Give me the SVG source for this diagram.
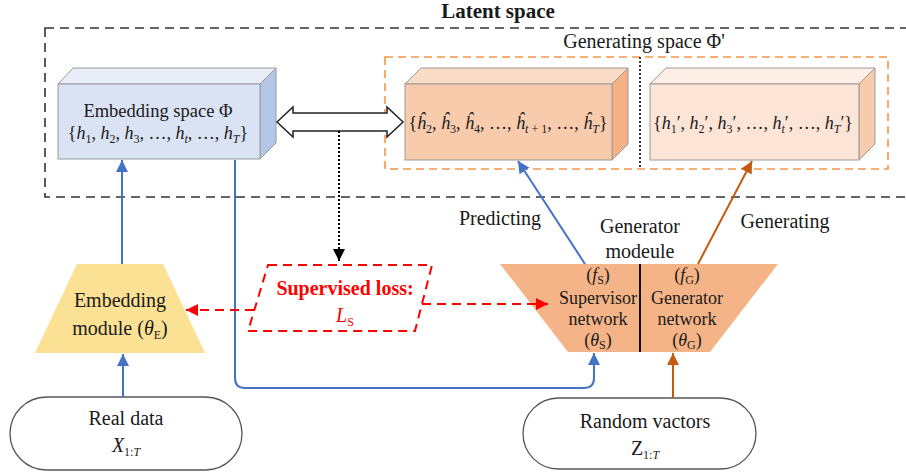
<svg xmlns="http://www.w3.org/2000/svg" width="906" height="472" viewBox="0 0 906 472">
<defs>
<style>
text{font-family:"Liberation Serif","Times New Roman",serif;fill:#1a1a1a}
.t18{font-size:18px}
.t20{font-size:20px}
.i{font-style:italic}
.sub{font-size:12px}
.face{stroke:#9a9a9a;stroke-width:1}
.blue{stroke:#4472c4;stroke-width:2;fill:none}
.org{stroke:#c55a11;stroke-width:2;fill:none}
.red{stroke:#ff0000;stroke-width:2;fill:none;stroke-dasharray:9,6}
</style>
<marker id="ab" markerUnits="userSpaceOnUse" markerWidth="14" markerHeight="14" refX="12" refY="6" orient="auto"><path d="M0,0 L12,6 L0,12 Z" fill="#4472c4"/></marker>
<marker id="ao" markerUnits="userSpaceOnUse" markerWidth="14" markerHeight="14" refX="12" refY="6" orient="auto"><path d="M0,0 L12,6 L0,12 Z" fill="#c55a11"/></marker>
<marker id="ar" markerUnits="userSpaceOnUse" markerWidth="14" markerHeight="14" refX="12" refY="6" orient="auto"><path d="M0,0 L12,6 L0,12 Z" fill="#ff0000"/></marker>
<marker id="ak" markerUnits="userSpaceOnUse" markerWidth="14" markerHeight="14" refX="12" refY="6" orient="auto"><path d="M0,0 L12,6 L0,12 Z" fill="#000"/></marker>
</defs>
<rect width="906" height="472" fill="#fff"/>

<g id="latent-space">
<rect x="45" y="28" width="863" height="169" fill="none" stroke="#333" stroke-width="1.6" stroke-dasharray="9,6"/>
<text x="498" y="18" text-anchor="middle" style="font-size:21px;font-weight:bold">Latent space</text>
</g>

<g id="generating-space">
<rect x="385" y="57" width="503" height="112" fill="none" stroke="#f79646" stroke-width="1.6" stroke-dasharray="8,5"/>
<line x1="640" y1="57" x2="640" y2="169" stroke="#222" stroke-width="1.8" stroke-dasharray="2,2"/>
<text x="644" y="48" text-anchor="middle" class="t20">Generating space Φ'</text>
</g>

<g id="embedding-space">
<polygon class="face" points="58,84 73,68 276,68 260,84" fill="#e8edf7"/>
<polygon class="face" points="260,84 276,68 276,143 260,159" fill="#b4c7e7"/>
<rect class="face" x="58" y="84" width="202" height="75" fill="#dae3f3"/>
<text x="158" y="117" text-anchor="middle" style="font-size:18.5px">Embedding space Φ</text>
<text x="158" y="139" text-anchor="middle" class="t18">{<tspan class="i">h</tspan><tspan class="sub" dy="4">1</tspan><tspan dy="-4">, </tspan><tspan class="i">h</tspan><tspan class="sub" dy="4">2</tspan><tspan dy="-4">, </tspan><tspan class="i">h</tspan><tspan class="sub" dy="4">3</tspan><tspan dy="-4">, …, </tspan><tspan class="i">h</tspan><tspan class="sub i" dy="4">t</tspan><tspan dy="-4">, …, </tspan><tspan class="i">h</tspan><tspan class="sub i" dy="4">T</tspan><tspan dy="-4">}</tspan></text>
</g>

<g id="predicted-space">
<polygon class="face" points="405,84 421,68 628,68 612,84" fill="#fadbc6"/>
<polygon class="face" points="612,84 628,68 628,144 612,160" fill="#f4b183"/>
<rect class="face" x="405" y="84" width="207" height="76" fill="#f8cbad"/>
<text x="508" y="129" text-anchor="middle" class="t18">{<tspan class="i">ĥ</tspan><tspan class="sub" dy="4">2</tspan><tspan dy="-4">, </tspan><tspan class="i">ĥ</tspan><tspan class="sub" dy="4">3</tspan><tspan dy="-4">, </tspan><tspan class="i">ĥ</tspan><tspan class="sub" dy="4">4</tspan><tspan dy="-4">, …, </tspan><tspan class="i">ĥ</tspan><tspan class="sub" dy="4"><tspan class="i">t</tspan> + 1</tspan><tspan dy="-4">, …, </tspan><tspan class="i">ĥ</tspan><tspan class="sub i" dy="4">T</tspan><tspan dy="-4">}</tspan></text>
</g>

<g id="generated-space">
<polygon class="face" points="650,84 666,68 875,68 859,84" fill="#fdefe5"/>
<polygon class="face" points="859,84 875,68 875,144 859,160" fill="#f8cbad"/>
<rect class="face" x="650" y="84" width="209" height="76" fill="#fce5d6"/>
<text x="753" y="129" text-anchor="middle" class="t18">{<tspan class="i">h</tspan><tspan class="sub" dy="4">1</tspan><tspan dy="-4">′, </tspan><tspan class="i">h</tspan><tspan class="sub" dy="4">2</tspan><tspan dy="-4">′, </tspan><tspan class="i">h</tspan><tspan class="sub" dy="4">3</tspan><tspan dy="-4">′, …, </tspan><tspan class="i">h</tspan><tspan class="sub i" dy="4">t</tspan><tspan dy="-4">′, …, </tspan><tspan class="i">h</tspan><tspan class="sub i" dy="4">T</tspan><tspan dy="-4">′}</tspan></text>
</g>

<g id="embedding-module">
<polygon points="77,264 163,264 205,353 35,353" fill="#fbe193"/>
<text x="120" y="307" text-anchor="middle" class="t20">Embedding</text>
<text x="120" y="335" text-anchor="middle" class="t20">module (<tspan class="i">θ</tspan><tspan class="sub" dy="4">E</tspan><tspan dy="-4">)</tspan></text>
</g>

<g id="supervised-loss">
<polygon points="268,265 432,265 415,331 248,331" fill="#fff" stroke="#ff0000" stroke-width="2" stroke-dasharray="9,6"/>
<text x="345" y="295" text-anchor="middle" style="font-size:20px;font-weight:bold;fill:#ff0000">Supervised loss:</text>
<text x="345" y="322" text-anchor="middle" class="t20" style="fill:#ff0000"><tspan class="i">L</tspan><tspan class="sub" dy="4" style="fill:#ff0000">S</tspan></text>
</g>

<g id="generator-module">
<polygon points="500,264 778,264 710,352 568,352" fill="#f5b487"/>
<line x1="640" y1="264" x2="640" y2="352" stroke="#111" stroke-width="2"/>
<text x="640" y="233" text-anchor="middle" class="t20">Generator</text>
<text x="640" y="258" text-anchor="middle" class="t20">modeule</text>
<text x="598" y="281" text-anchor="middle" class="t18">(<tspan class="i">f</tspan><tspan class="sub" dy="3">S</tspan><tspan dy="-3">)</tspan></text>
<text x="598" y="304" text-anchor="middle" class="t18">Supervisor</text>
<text x="598" y="325" text-anchor="middle" class="t18">network</text>
<text x="598" y="346" text-anchor="middle" class="t18">(<tspan class="i">θ</tspan><tspan class="sub" dy="3">S</tspan><tspan dy="-3">)</tspan></text>
<text x="687" y="281" text-anchor="middle" class="t18">(<tspan class="i">f</tspan><tspan class="sub" dy="3">G</tspan><tspan dy="-3">)</tspan></text>
<text x="687" y="304" text-anchor="middle" class="t18">Generator</text>
<text x="687" y="325" text-anchor="middle" class="t18">network</text>
<text x="687" y="346" text-anchor="middle" class="t18">(<tspan class="i">θ</tspan><tspan class="sub" dy="3">G</tspan><tspan dy="-3">)</tspan></text>
</g>

<g id="real-data">
<rect x="10" y="397" width="232" height="73" rx="36.5" fill="#fff" stroke="#555" stroke-width="1.3"/>
<text x="126" y="425" text-anchor="middle" class="t20">Real data</text>
<text x="126" y="452" text-anchor="middle" class="t20"><tspan class="i">X</tspan><tspan class="sub" dy="4">1:<tspan class="i">T</tspan></tspan></text>
</g>

<g id="random-vectors">
<rect x="523" y="398" width="233" height="71" rx="35.5" fill="#fff" stroke="#555" stroke-width="1.3"/>
<text x="645" y="428" text-anchor="middle" class="t20">Random vactors</text>
<text x="645" y="455" text-anchor="middle" class="t20">Z<tspan class="sub" dy="4">1:<tspan class="i">T</tspan></tspan></text>
</g>

<g id="connectors">
<polygon points="277,122 293,107 293,113 387,113 387,107 403,122 387,137 387,131 293,131 293,137" fill="#fff" stroke="#222" stroke-width="1.5"/>
<line x1="339" y1="131" x2="339" y2="261" stroke="#000" stroke-width="2" stroke-dasharray="2,2" marker-end="url(#ak)"/>
<line class="blue" x1="122" y1="264" x2="122" y2="160" marker-end="url(#ab)"/>
<line class="blue" x1="123" y1="397" x2="123" y2="354" marker-end="url(#ab)"/>
<path class="blue" d="M235,160 V378 Q235,388 245,388 H584 Q594,388 594,378 V353" marker-end="url(#ab)"/>
<line class="blue" x1="585" y1="264" x2="518" y2="161" marker-end="url(#ab)"/>
<line class="org" x1="698" y1="264" x2="752" y2="161" marker-end="url(#ao)"/>
<line class="org" x1="673" y1="398" x2="673" y2="353" marker-end="url(#ao)"/>
<line class="red" x1="254" y1="310" x2="186" y2="310" marker-end="url(#ar)"/>
<line class="red" x1="422" y1="304" x2="548" y2="304" marker-end="url(#ar)"/>
<text x="500" y="225" text-anchor="middle" class="t20">Predicting</text>
<text x="785" y="228" text-anchor="middle" class="t20">Generating</text>
</g>
</svg>
